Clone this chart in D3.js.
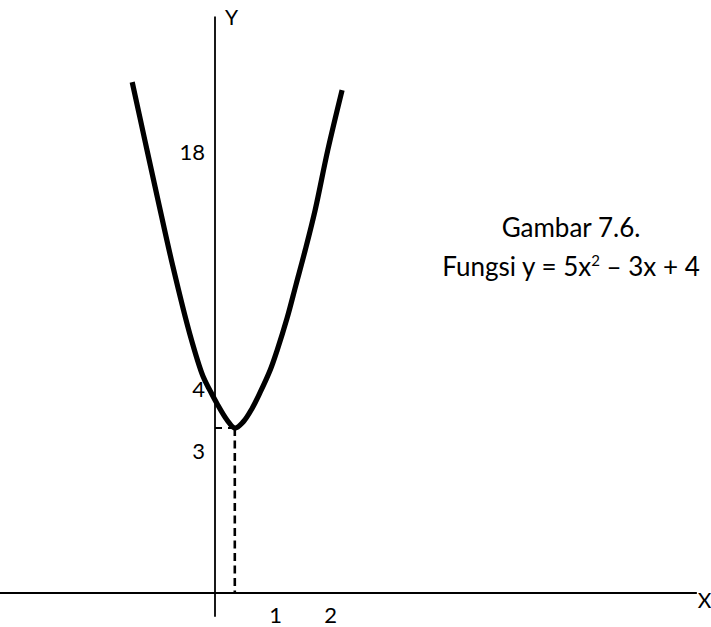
<!DOCTYPE html>
<html>
<head>
<meta charset="utf-8">
<script src="https://cdn.jsdelivr.net/npm/d3@7"></script>
<style>
	body { margin: 0; background: #fff; }
	text { font-family: Lato, "Open Sans", sans-serif; fill: #000; }
</style>
</head>
<body>
<svg id="chart"></svg>
<script>
var width = 711, height = 627

// values (not drawn to scale, hence the polylinear y scale)
var xTicks = [1, 2]
var yTicks = [3, 4, 18]
var curveX = [-1.38, -1.17, -0.95, -0.70, -0.42, -0.20, -0.08, 0.03, 0.20, 0.33, 0.47, 0.62, 0.75, 0.92, 1.04, 1.22, 1.38, 1.55, 1.73, 1.96, 2.22]
var curveY = [22.13, 18.71, 15.16, 11.21, 7.25, 4.75, 3.97, 3.77, 3.50, 3.37, 3.47, 3.69, 3.94, 5.12, 6.30, 8.19, 10.14, 12.21, 14.57, 18.12, 21.66]
var vertex = {x: 0.33, y: 3.37}
var xAxisExtent = [-3.6, 8.67]
var yAxisExtent = [-0.5, 26]
var titleLines = ['Gambar 7.6.', 'Fungsi y = 5x', '2', ' \u2013 3x + 4']

var svg = d3.select('#chart')
	.attr('width', width)
	.attr('height', height)

var x = d3.scaleLinear()
	.domain([0, 1, 2])
	.range([215, 275, 330])

var y = d3.scaleLinear()
	.domain([0, 3, 4, 18])
	.range([593, 451, 389, 152])

// axis lines
svg.append('line')
	.attr('x1', x(xAxisExtent[0]))
	.attr('x2', x(xAxisExtent[1]))
	.attr('y1', y(0))
	.attr('y2', y(0))
	.attr('stroke', '#000')
	.attr('stroke-width', 1.8)

svg.append('line')
	.attr('x1', x(0))
	.attr('x2', x(0))
	.attr('y1', y(yAxisExtent[0]))
	.attr('y2', y(yAxisExtent[1]))
	.attr('stroke', '#000')
	.attr('stroke-width', 1.8)

// tick labels only, no tick marks
svg.append('g')
	.attr('transform', 'translate(0,' + y(0) + ')')
	.call(d3.axisBottom(x).tickValues(xTicks).tickFormat(d3.format('d')).tickSize(0).tickPadding(14))
svg.append('g')
	.attr('transform', 'translate(' + x(0) + ',0)')
	.call(d3.axisLeft(y).tickValues(yTicks).tickFormat(d3.format('d')).tickSize(0).tickPadding(10))

svg.selectAll('.domain').remove()
svg.selectAll('.tick text')
	.style('font-family', 'Lato, "Open Sans", sans-serif')
	.style('font-size', '22px')

// dashed guides to the vertex
svg.append('line')
	.attr('x1', x(vertex.x))
	.attr('x2', x(vertex.x))
	.attr('y1', y(vertex.y))
	.attr('y2', y(0))
	.attr('stroke', '#000')
	.attr('stroke-width', 2.6)
	.attr('stroke-dasharray', '8,4.5')

svg.append('line')
	.attr('x1', x(0))
	.attr('x2', x(vertex.x))
	.attr('y1', y(vertex.y))
	.attr('y2', y(vertex.y))
	.attr('stroke', '#000')
	.attr('stroke-width', 2)
	.attr('stroke-dasharray', '7,6')

// the parabola
var line = d3.line()
	.x(d => x(d[0]))
	.y(d => y(d[1]))
	.curve(d3.curveCatmullRom)

svg.append('path')
	.datum(d3.zip(curveX, curveY))
	.attr('d', line)
	.attr('fill', 'none')
	.attr('stroke', '#000')
	.attr('stroke-width', 5.2)
	.attr('stroke-linejoin', 'round')

// axis names
svg.append('text')
	.attr('x', x(0) + 10)
	.attr('y', y(yAxisExtent[1]) + 8)
	.style('font-size', '21px')
	.text('Y')

svg.append('text')
	.attr('x', x(xAxisExtent[1]) + 1)
	.attr('y', y(0) + 15)
	.style('font-size', '21px')
	.text('X')

// caption
var title = svg.append('g')
	.attr('text-anchor', 'middle')
	.style('font-size', '26px')

title.append('text')
	.attr('x', 571)
	.attr('y', 237)
	.text(titleLines[0])

var t2 = title.append('text')
	.attr('x', 571)
	.attr('y', 276)
t2.append('tspan').text(titleLines[1])
t2.append('tspan')
	.attr('dy', -10)
	.style('font-size', '15px')
	.text(titleLines[2])
t2.append('tspan')
	.attr('dy', 10)
	.text(titleLines[3])
</script>
</body>
</html>
